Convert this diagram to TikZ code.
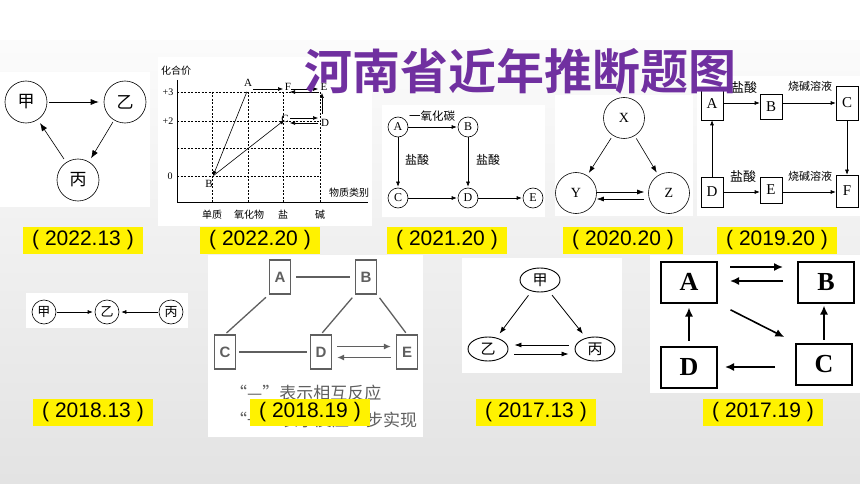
\documentclass[tikz,border=0pt]{standalone}
\usepackage{fontspec}
\setmainfont{Liberation Serif}
\setsansfont{Liberation Sans}
\newfontfamily\cjk{Noto Sans CJK SC}
\newfontfamily\cjkheavy{Noto Sans CJK SC Bold}
\usetikzlibrary{shapes.geometric,arrows.meta}
\definecolor{titleviolet}{RGB}{112,48,160}
\definecolor{notegray}{RGB}{95,95,95}

\begin{document}
\begin{tikzpicture}[x=1pt,y=-1pt]
				\tikzstyle{every node}=[inner sep=0pt]
				\tikzstyle{panel}=[fill=white]
				\tikzstyle{year}=[fill=yellow,minimum width=120pt,minimum height=27pt,
				font=\sffamily\fontsize{21pt}{21pt}\selectfont]
				\tikzstyle{ring}=[draw,circle,line width=0.6pt]
				\tikzstyle{arr}=[-{Latex[length=5pt,width=4pt]},line width=0.6pt,shorten >=2pt,shorten <=2pt]
				\tikzstyle{grid}=[line width=0.4pt,dash pattern=on 2pt off 1.5pt]
				\tikzstyle{pt}=[coordinate]
				\tikzstyle{tag}=[font=\cjk\fontsize{12pt}{12pt}\selectfont]
				\tikzstyle{letter}=[font=\fontsize{11pt}{11pt}\selectfont]
				\tikzstyle{slot}=[draw,rectangle,line width=0.6pt,minimum width=22pt,
				font=\fontsize{15pt}{15pt}\selectfont]
				\tikzstyle{graybox}=[draw=notegray,rectangle,line width=1.3pt,minimum width=21pt,
				minimum height=34pt,text=notegray,font=\sffamily\bfseries\fontsize{15pt}{15pt}\selectfont]
				\tikzstyle{link}=[draw=notegray,line width=1.3pt]
				\tikzstyle{oval}=[draw,ellipse,line width=0.9pt,minimum width=40pt,minimum height=24pt,
				font=\cjk\fontsize{15pt}{15pt}\selectfont]
				\tikzstyle{bigbox}=[draw,rectangle,line width=2pt,minimum width=56pt,minimum height=41pt,
				font=\bfseries\fontsize{26pt}{26pt}\selectfont]
				\tikzstyle{bold arr}=[-{Latex[length=9pt,width=8pt]},line width=1.6pt]

				\fill[top color=gray!3,bottom color=gray!22] (0,40) rectangle (860,484);
				\fill[white] (0,0) rectangle (860,40);
				\useasboundingbox (0,0) rectangle (860,484);

				% 2022.13
				\fill[panel] (0,72) rectangle (150,207);
				\node[ring,minimum size=42pt,font=\cjk\fontsize{17pt}{17pt}\selectfont] (jia) at (26,102) {甲};
				\node[ring,minimum size=42pt,font=\cjk\fontsize{17pt}{17pt}\selectfont] (yi) at (125,102) {乙};
				\node[ring,minimum size=42pt,font=\cjk\fontsize{17pt}{17pt}\selectfont] (bing) at (78,180) {丙};
				\draw[arr,-{Latex[length=8pt,width=6pt]},shorten >=5pt] (jia) -- (yi);
				\draw[arr,-{Latex[length=8pt,width=6pt]},shorten >=4pt] (yi) -- (bing);
				\draw[arr,-{Latex[length=8pt,width=6pt]},shorten <=4pt,shorten >=4pt] (bing) -- (jia);

				% 2022.20
				\fill[panel] (158,57) rectangle (372,226);
				\draw[line width=0.5pt] (177,80) -- (177,202) -- (368,202);
				\foreach \y in {92,121,148,176} \draw[grid] (177,\y) -- (320,\y);
				\foreach \x in {212,248,283,320} \draw[grid] (\x,92) -- (\x,202);
				\node[font=\cjk\fontsize{10pt}{10pt}\selectfont] (valence) at (176,71) {化合价};
				\node[font=\cjk\fontsize{10pt}{10pt}\selectfont] (kind) at (349,193) {物质类别};
				\node[letter,font=\fontsize{10pt}{10pt}\selectfont] (tk3) at (168,92) {+3};
				\node[letter,font=\fontsize{10pt}{10pt}\selectfont] (tk2) at (168,121) {+2};
				\node[letter,font=\fontsize{10pt}{10pt}\selectfont] (tk0) at (170,176) {0};
				\node[font=\cjk\fontsize{10pt}{10pt}\selectfont] (cat1) at (212,215) {单质};
				\node[font=\cjk\fontsize{10pt}{10pt}\selectfont] (cat2) at (249,215) {氧化物};
				\node[font=\cjk\fontsize{10pt}{10pt}\selectfont] (cat3) at (283,215) {盐};
				\node[font=\cjk\fontsize{10pt}{10pt}\selectfont] (cat4) at (320,215) {碱};
				\node[pt] (pA) at (248,89) {};
				\node[pt] (pF) at (287,89) {};
				\node[pt] (pE) at (322,89) {};
				\node[pt] (pC) at (287,118) {};
				\node[pt] (pD) at (322,118) {};
				\node[pt] (pB) at (213,176) {};
				\node[letter] (tA) at (248,83) {A};
				\node[letter] (tF) at (288,87) {F};
				\node[letter] (tE) at (324,87) {E};
				\node[letter] (tC) at (285,119) {C};
				\node[letter] (tD) at (325,123) {D};
				\node[letter] (tB) at (209,184) {B};
				\draw[arr,shorten <=5pt,shorten >=4pt] (pA) -- (pF);
				\draw[arr,shorten <=4pt,shorten >=4pt] (pF) -- (pE);
				\draw[arr,shorten <=4pt,shorten >=3pt] ([yshift=-3pt]pE) -- ([yshift=-3pt]pF);
				\draw[arr,shorten <=3pt,shorten >=4pt] (pC) -- (pD);
				\draw[arr,shorten <=4pt,shorten >=3pt] ([yshift=-5pt]pD) -- ([yshift=-5pt]pC);
				\draw[arr,shorten <=4pt,shorten >=4pt] (pD) -- (pE);
				\draw[arr,shorten <=3pt,shorten >=0pt] (pA) -- (pB);
				\draw[arr,shorten <=1pt,shorten >=3pt] (pB) -- (pC);

				% 2021.20
				\fill[panel] (382,105) rectangle (545,217);
				\node[ring,minimum size=20pt,letter,font=\fontsize{12pt}{12pt}\selectfont] (oA) at (398,127) {A};
				\node[ring,minimum size=20pt,letter,font=\fontsize{12pt}{12pt}\selectfont] (oB) at (468,127) {B};
				\node[ring,minimum size=20pt,letter,font=\fontsize{12pt}{12pt}\selectfont] (oC) at (398,198) {C};
				\node[ring,minimum size=20pt,letter,font=\fontsize{12pt}{12pt}\selectfont] (oD) at (468,198) {D};
				\node[ring,minimum size=20pt,letter,font=\fontsize{12pt}{12pt}\selectfont] (oE) at (533,198) {E};
				\draw[arr,shorten <=0pt,shorten >=1pt] (oA) -- (oB);
				\draw[arr,shorten <=0pt,shorten >=1pt] (oA) -- (oC);
				\draw[arr,shorten <=0pt,shorten >=1pt] (oB) -- (oD);
				\draw[arr,shorten <=0pt,shorten >=1pt] (oC) -- (oD);
				\draw[arr,shorten <=0pt,shorten >=1pt] (oD) -- (oE);
				\node[tag,font=\cjk\fontsize{11.5pt}{11.5pt}\selectfont] (co) at (432,116) {一氧化碳};
				\node[tag] (acid1) at (417,160) {盐酸};
				\node[tag] (acid2) at (488,160) {盐酸};

				% 2020.20
				\fill[panel] (555,95) rectangle (693,216);
				\node[ring,minimum size=41pt,font=\fontsize{14pt}{14pt}\selectfont] (X) at (624,118) {X};
				\node[ring,minimum size=41pt,font=\fontsize{14pt}{14pt}\selectfont] (Y) at (576,193) {Y};
				\node[ring,minimum size=41pt,font=\fontsize{14pt}{14pt}\selectfont] (Z) at (669,193) {Z};
				\draw[arr,-{Latex[length=7pt,width=5pt]},shorten <=3pt,shorten >=3pt] (X) -- (Y);
				\draw[arr,-{Latex[length=7pt,width=5pt]},shorten <=3pt,shorten >=3pt] (X) -- (Z);
				\draw[arr,-{Latex[length=7pt,width=5pt]},shorten <=0pt,shorten >=4pt] ([yshift=1pt]Y.east) -- ([yshift=1pt]Z.west);
				\draw[arr,-{Latex[length=7pt,width=5pt]},shorten <=4pt,shorten >=0pt] ([yshift=-6pt]Z.west) -- ([yshift=-6pt]Y.east);

				% 2019.20
				\fill[panel] (697,76) rectangle (860,216);
				\node[slot,minimum height=32pt] (sA) at (712,104) {A};
				\node[slot,minimum height=25pt] (sB) at (771,107) {B};
				\node[slot,minimum height=34pt] (sC) at (847,103) {C};
				\node[slot,minimum height=30pt] (sD) at (712,192) {D};
				\node[slot,minimum height=26pt] (sE) at (771,190) {E};
				\node[slot,minimum height=32pt] (sF) at (847,191) {F};
				\draw[arr,shorten <=0pt,shorten >=0pt] (sA.east |- 0,103) -- (sB.west |- 0,103);
				\draw[arr,shorten <=0pt,shorten >=0pt] (sB.east |- 0,103) -- (sC.west |- 0,103);
				\draw[arr,shorten <=0pt,shorten >=0pt] (sC) -- (sF);
				\draw[arr,shorten <=0pt,shorten >=0pt] (sD) -- (sA);
				\draw[arr,shorten <=0pt,shorten >=0pt] (sD.east |- 0,192) -- (sE.west |- 0,192);
				\draw[arr,shorten <=0pt,shorten >=0pt] (sE.east |- 0,192) -- (sF.west |- 0,192);
				\node[tag,font=\cjk\fontsize{13pt}{13pt}\selectfont] (acid3) at (744,88) {盐酸};
				\node[tag,font=\cjk\fontsize{11pt}{11pt}\selectfont] (soda1) at (810,86) {烧碱溶液};
				\node[tag,font=\cjk\fontsize{13pt}{13pt}\selectfont] (acid4) at (743,177) {盐酸};
				\node[tag,font=\cjk\fontsize{11pt}{11pt}\selectfont] (soda2) at (810,176) {烧碱溶液};

				% 2018.13
				\fill[panel] (26,293) rectangle (188,328);
				\node[ring,minimum size=24pt,font=\cjk\fontsize{13pt}{13pt}\selectfont] (jia2) at (44,312) {甲};
				\node[ring,minimum size=24pt,font=\cjk\fontsize{13pt}{13pt}\selectfont] (yi2) at (107,312) {乙};
				\node[ring,minimum size=24pt,font=\cjk\fontsize{13pt}{13pt}\selectfont] (bing2) at (171,312) {丙};
				\draw[arr,shorten <=1pt,shorten >=2pt] (jia2) -- (yi2);
				\draw[arr,shorten <=1pt,shorten >=2pt] (bing2) -- (yi2);

				% 2018.19
				\fill[panel] (208,255) rectangle (423,437);
				\node[graybox] (rA) at (280,277) {A};
				\node[graybox] (rB) at (366,277) {B};
				\node[graybox] (rC) at (225,352) {C};
				\node[graybox] (rD) at (321,352) {D};
				\node[graybox] (rE) at (407,352) {E};
				\draw[link,shorten <=5pt,shorten >=5pt] (rA) -- (rB);
				\draw[link,shorten <=4pt,shorten >=2pt] (rA.south west) -- (rC.north);
				\draw[link,shorten <=4pt,shorten >=2pt] (rB.south west) -- (rD.north);
				\draw[link,shorten <=4pt,shorten >=2pt] (rB.south east) -- (rE.north);
				\draw[link,shorten <=3pt,shorten >=3pt] (rC) -- (rD);
				\draw[link,-{Latex[length=7pt,width=6pt]},shorten <=5pt,shorten >=5pt] ([yshift=5.5pt]rD.east) -- ([yshift=5.5pt]rE.west);
				\draw[link,-{Latex[length=7pt,width=6pt]},shorten <=5pt,shorten >=5pt] ([yshift=-5.5pt]rE.west) -- ([yshift=-5.5pt]rD.east);
				\node[anchor=west,text=notegray,font=\cjk\fontsize{17pt}{17pt}\selectfont] (note1) at (230,393) {“—”表示相互反应};
				\node[anchor=west,text=notegray,font=\cjk\fontsize{17pt}{17pt}\selectfont] (note2) at (230,420) {“→”表示反应一步实现};

				% 2017.13
				\fill[panel] (462,258) rectangle (622,373);
				\node[oval] (jia3) at (540,280) {甲};
				\node[oval] (yi3) at (488,349) {乙};
				\node[oval] (bing3) at (595,349) {丙};
				\draw[arr,-{Latex[length=7pt,width=5pt]},line width=0.8pt,shorten <=5pt,shorten >=5pt] (jia3) -- (yi3);
				\draw[arr,-{Latex[length=7pt,width=5pt]},line width=0.8pt,shorten <=5pt,shorten >=5pt] (jia3) -- (bing3);
				\draw[arr,-{Latex[length=7pt,width=5pt]},line width=0.8pt,shorten <=6pt,shorten >=6pt] ([yshift=4pt]bing3.west) -- ([yshift=4pt]yi3.east);
				\draw[arr,-{Latex[length=7pt,width=5pt]},line width=0.8pt,shorten <=6pt,shorten >=6pt] ([yshift=-5pt]yi3.east) -- ([yshift=-5pt]bing3.west);

				% 2017.19
				\fill[panel] (650,255) rectangle (860,393);
				\node[bigbox] (kA) at (689,282) {A};
				\node[bigbox] (kB) at (826,282) {B};
				\node[bigbox] (kC) at (824,364) {C};
				\node[bigbox] (kD) at (689,367) {D};
				\draw[bold arr,shorten <=12pt,shorten >=14pt] ([yshift=15pt]kA.east) -- ([yshift=15pt]kB.west);
				\draw[bold arr,shorten <=14pt,shorten >=12pt] ([yshift=1pt]kB.west) -- ([yshift=1pt]kA.east);
				\draw[bold arr,shorten <=14pt,shorten >=12pt] (kA.south east) -- (kC.north west);
				\draw[bold arr,shorten <=3pt,shorten >=2pt] (kC.north -| 824,0) -- (kB.south -| 824,0);
				\draw[bold arr,shorten <=20pt,shorten >=7pt] (kC.west |- 0,367) -- (kD.east);
				\draw[bold arr,shorten <=5pt,shorten >=4pt] (kD) -- (kA);

				% labels
				\node[year] (y1) at (83,240) {( 2022.13 )};
				\node[year] (y2) at (260,240) {( 2022.20 )};
				\node[year] (y3) at (447,240) {( 2021.20 )};
				\node[year] (y4) at (623,240) {( 2020.20 )};
				\node[year] (y5) at (777,240) {( 2019.20 )};
				\node[year] (y6) at (93,412) {( 2018.13 )};
				\node[year] (y7) at (310,412) {( 2018.19 )};
				\node[year] (y8) at (536,412) {( 2017.13 )};
				\node[year] (y9) at (763,412) {( 2017.19 )};

				\node[text=titleviolet,font=\cjkheavy\fontsize{48pt}{48pt}\selectfont] (title) at (520,71) {河南省近年推断题图};
\end{tikzpicture}
\end{document}
